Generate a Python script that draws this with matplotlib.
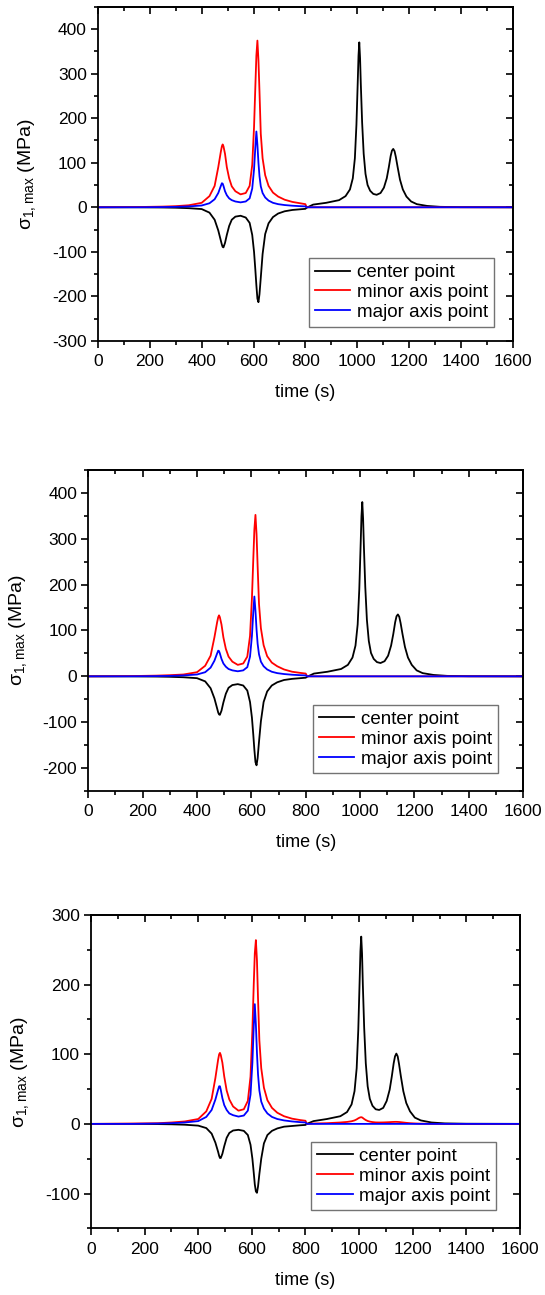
import numpy as np
import matplotlib.pyplot as plt
from matplotlib.ticker import MultipleLocator

plt.rcParams['font.family'] = ['Liberation Sans', 'DejaVu Sans']
plt.rcParams['font.size'] = 12.5
plt.rcParams['axes.unicode_minus'] = False

# time samples (s): before and after the 800 s jump
t_a = [0, 150, 250, 300, 350, 400, 430, 450, 464, 474,
       478, 481, 484, 490, 497, 506, 516, 530, 550, 570,
       585, 595, 602, 607, 611, 615, 619, 623, 628, 635,
       645, 658, 675, 695, 720, 750, 780, 800]
t_b = [805, 830, 880, 930, 955, 972, 983, 991, 997, 1002,
       1005, 1008, 1011, 1014, 1019, 1025, 1032, 1040, 1050, 1062,
       1075, 1090, 1103, 1114, 1122, 1129, 1134, 1139, 1144, 1149,
       1156, 1165, 1176, 1190, 1208, 1230, 1270, 1320, 1400, 1600]
t = t_a + t_b
zeros_b = [0] * len(t_b)

# panel 1
center_1 = [0, 0, -0.5, -1, -2, -4, -12, -28, -52, -75,
            -84, -89, -90, -80, -62, -42, -28, -21, -19, -23,
            -35, -62, -100, -140, -175, -205, -213, -195, -158, -105,
            -60, -36, -22, -14, -9, -6, -4.5, -3.5] + \
           [-1, 6, 10, 16, 25, 40, 65, 110, 185, 280,
            340, 370, 335, 275, 190, 120, 75, 50, 37, 30,
            28, 32, 44, 65, 90, 115, 127, 131, 126, 113,
            90, 62, 40, 24, 13, 7, 3, 1, 0.3, 0]
minor_1 = [0, 0.5, 1.5, 2.5, 4.5, 10, 25, 48, 90, 125,
           137, 141, 137, 120, 90, 65, 47, 36, 29, 32,
           48, 95, 180, 270, 340, 374, 330, 260, 165, 110,
           72, 48, 33, 24, 17, 12, 9, 7] + zeros_b
major_1 = [0, 0, 0.5, 1, 2, 4, 9, 18, 32, 48,
           54, 53, 48, 36, 27, 20, 16, 13, 11, 13,
           20, 42, 85, 135, 170, 140, 100, 70, 47, 32,
           22, 15, 10, 7, 5, 3.5, 2.5, 2] + zeros_b

# panel 2
center_2 = [0, 0, -0.5, -1, -2, -4, -11, -26, -48, -70,
            -79, -83, -84, -75, -57, -38, -25, -19, -17, -20,
            -31, -56, -90, -127, -160, -187, -194, -178, -143, -98,
            -56, -33, -20, -13, -8, -5.5, -4, -3] + \
           [-1, 6, 10, 16, 25, 41, 67, 113, 190, 288,
            349, 380, 344, 282, 195, 123, 77, 51, 38, 31,
            29, 33, 45, 67, 92, 118, 131, 135, 130, 116,
            92, 64, 41, 25, 13, 7, 3, 1, 0.3, 0]
minor_2 = [0, 0.5, 1.5, 2.5, 4, 9, 23, 45, 85, 118,
           129, 133, 129, 113, 85, 60, 43, 32, 25, 28,
           43, 88, 170, 255, 320, 352, 310, 240, 158, 105,
           68, 44, 30, 22, 15, 10, 7.5, 6] + zeros_b
major_2 = [0, 0, 0.5, 1, 2, 4, 9, 19, 34, 50,
           56, 55, 50, 38, 28, 21, 16, 13, 11, 13,
           20, 43, 88, 140, 174, 143, 102, 71, 48, 32,
           22, 15, 10, 7, 5, 3.5, 2.5, 2] + zeros_b

# panel 3
center_3 = [0, 0, -0.3, -0.6, -1.2, -2.5, -6, -14, -27, -40,
            -46, -49, -49, -43, -32, -20, -13, -9.5, -8.5, -10,
            -16, -30, -50, -70, -87, -97, -99, -90, -72, -50,
            -28, -16, -10, -6.5, -4, -3, -2, -1.5] + \
           [0, 4, 7, 11, 17, 28, 47, 80, 135, 205,
            248, 269, 245, 200, 138, 87, 54, 36, 26, 21,
            20, 23, 33, 49, 68, 87, 97, 101, 97, 86,
            68, 47, 30, 18, 9, 5, 2, 0.7, 0.2, 0]
minor_3 = [0, 0.5, 1, 2, 3.5, 7, 18, 36, 66, 92,
           100, 102, 99, 88, 68, 48, 35, 25, 19, 21,
           33, 68, 135, 200, 245, 264, 235, 180, 120, 80,
           52, 34, 23, 16, 11, 7.5, 5.5, 4.5] + \
          [0, 0.5, 1, 2, 2.8, 3.8, 5, 6.5, 8, 9,
           9.4, 9.6, 9.3, 8.5, 7, 5.5, 4.2, 3.3, 2.6, 2.1,
           2, 2.1, 2.3, 2.5, 2.7, 2.8, 2.9, 2.9, 2.8, 2.7,
           2.4, 2, 1.5, 1, 0.6, 0.3, 0.1, 0, 0, 0]
major_3 = [0, 0, 0.5, 1, 2, 4, 10, 20, 35, 49,
           54, 54, 49, 37, 27, 20, 15, 12.5, 10.5, 12,
           19, 42, 88, 140, 172, 143, 102, 71, 48, 32,
           22, 15, 10, 7, 5, 3.5, 2.5, 2] + zeros_b

labels = ['center point', 'minor axis point', 'major axis point']
colors = ['black', '#ff0000', '#0000ff']


def draw(ax, series, ylim, leg_anchor):
    for y, c, lab in zip(series, colors, labels):
        ax.plot(t, y, color=c, lw=1.3, label=lab)
    ax.set_xlim(0, 1600)
    ax.set_ylim(*ylim)
    ax.xaxis.set_major_locator(MultipleLocator(200))
    ax.xaxis.set_minor_locator(MultipleLocator(100))
    ax.yaxis.set_major_locator(MultipleLocator(100))
    ax.yaxis.set_minor_locator(MultipleLocator(50))
    ax.tick_params(which='both', direction='out', width=1.2,
                   top=False, right=False)
    ax.tick_params(which='major', length=5)
    ax.tick_params(which='minor', length=3)
    ax.tick_params(axis='x', pad=4.5)
    ax.tick_params(axis='y', pad=3)
    # mirrored ticks pointing inward on top/right
    sx = ax.secondary_xaxis('top')
    sx.xaxis.set_major_locator(MultipleLocator(200))
    sx.xaxis.set_minor_locator(MultipleLocator(100))
    sx.tick_params(which='both', direction='in', labeltop=False, width=1.2)
    sx.tick_params(which='major', length=5)
    sx.tick_params(which='minor', length=3)
    sy = ax.secondary_yaxis('right')
    sy.yaxis.set_major_locator(MultipleLocator(100))
    sy.yaxis.set_minor_locator(MultipleLocator(50))
    sy.tick_params(which='both', direction='in', labelright=False, width=1.2)
    sy.tick_params(which='major', length=5)
    sy.tick_params(which='minor', length=3)
    for s in list(ax.spines.values()) + list(sx.spines.values()) + list(sy.spines.values()):
        s.set_linewidth(1.3)
    ax.set_xlabel('time (s)', fontsize=13, labelpad=11)
    ax.set_ylabel(r'$\mathregular{\sigma_{1,max}}$ (MPa)', fontsize=14, labelpad=10)
    leg = ax.legend(loc='lower right', bbox_to_anchor=leg_anchor,
                    fancybox=False, edgecolor='0.45', framealpha=1,
                    fontsize=13.5, handlelength=1.9, handletextpad=0.35,
                    borderpad=0.3, labelspacing=0.15, borderaxespad=0)
    leg.get_frame().set_linewidth(1.0)


fig = plt.figure(figsize=(5.45, 12.95), dpi=100)
ax1 = fig.add_axes([0.1798, 0.7367, 0.761, 0.2581])
ax2 = fig.add_axes([0.162, 0.3892, 0.798, 0.2479])
ax3 = fig.add_axes([0.167, 0.0515, 0.787, 0.2419])

draw(ax1, [center_1, minor_1, major_1], (-300, 450), (0.954, 0.043))
draw(ax2, [center_2, minor_2, major_2], (-250, 450), (0.941, 0.055))
draw(ax3, [center_3, minor_3, major_3], (-150, 300), (0.944, 0.058))

plt.savefig('out.png', dpi=100)
